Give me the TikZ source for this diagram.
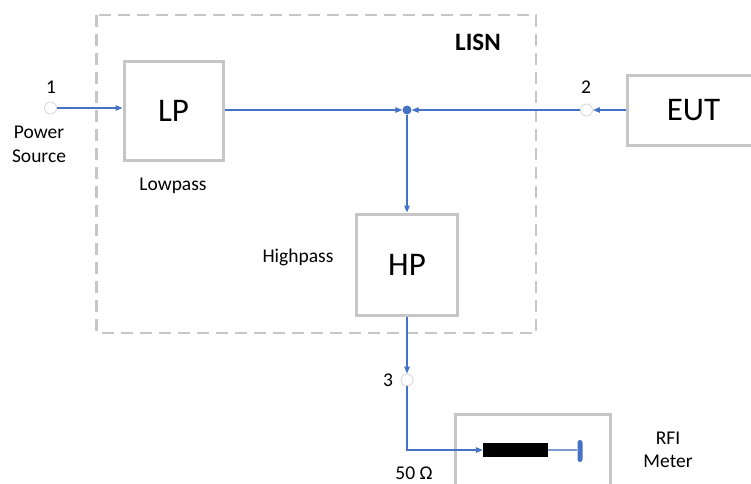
\documentclass[tikz,border=0pt]{standalone}
\usepackage{fontspec}
\setmainfont{Carlito}
\usetikzlibrary{arrows.meta}
\definecolor{bl}{HTML}{4472C4}
\definecolor{gr}{HTML}{C6C6C6}
\definecolor{pg}{HTML}{DADADA}
\begin{document}
\begin{tikzpicture}[x=1pt,y=-1pt,
  box/.style={draw=gr,line width=3pt,fill=white,inner sep=0pt,font=\fontsize{33}{40}\selectfont},
  port/.style={circle,draw=pg,fill=white,line width=0.9pt,minimum size=12pt,inner sep=0pt},
  conn/.style={draw=bl,line width=1.2pt,-{Triangle[length=7pt,width=5.5pt]}},
  lbl/.style={font=\fontsize{19.5}{23.5}\selectfont,align=center,inner sep=0pt},
  big/.style={font=\fontsize{25}{30}\selectfont\bfseries,inner sep=0pt}]
\useasboundingbox (0,0) rectangle (751,483);
% LISN border
\draw[gr,line width=2.5pt,dash pattern=on 12pt off 7pt] (96.5,15) rectangle (536,333);
\node[big] (lisn) at (478,42) {LISN};
% boxes
\node[box,minimum width=99pt,minimum height=99pt] (lp) at (173.5,110.5) {LP};
\node[box,minimum width=101pt,minimum height=101pt] (hp) at (407,264.5) {HP};
\node[box,minimum width=133pt,minimum height=70pt] (eut) at (693.5,110) {EUT};
\node[box,minimum width=155pt,minimum height=81pt] (rfi) at (532.5,454.5) {};
% ports
\node[port] (p1) at (50.5,108) {};
\node[port] (p2) at (586.5,110) {};
\node[port] (p3) at (407,380) {};
\node[circle,fill=bl,minimum size=9pt,inner sep=0pt] (j) at (407,110) {};
% labels
\node[lbl] (t1) at (51,87) {1};
\node[lbl] (t2) at (586,87) {2};
\node[lbl] (t3) at (388,380) {3};
\node[lbl] (ps) at (39,144.5) {Power\\Source};
\node[lbl] (lowp) at (173,186) {Lowpass};
\node[lbl] (highp) at (298,257) {Highpass};
\node[lbl] (ohm) at (414,473) {50 Ω};
\node[lbl] (meter) at (668,450) {RFI\\Meter};
% resistor and terminal
\node[fill=black,minimum width=65pt,minimum height=14pt,inner sep=0pt] (res) at (515.5,450) {};
\node[fill=bl,minimum width=5pt,minimum height=22pt,inner sep=0pt,rounded corners=2.5pt] (bar) at (580,451) {};
% connectors
\draw[conn] (p1.east) -- (lp.west |- p1);
\draw[conn] (lp.east |- j) -- (j.west);
\draw[conn] (eut.west |- p2) -- (p2.east);
\draw[conn] (p2.west) -- (j.east);
\draw[conn] (j.south) -- (hp.north);
\draw[conn] (hp.south) -- (p3.north);
\draw[conn] (p3.south) |- (res.west);
\draw[bl!70,line width=1.2pt] (res.east) -- (bar.west |- res);
\end{tikzpicture}
\end{document}
